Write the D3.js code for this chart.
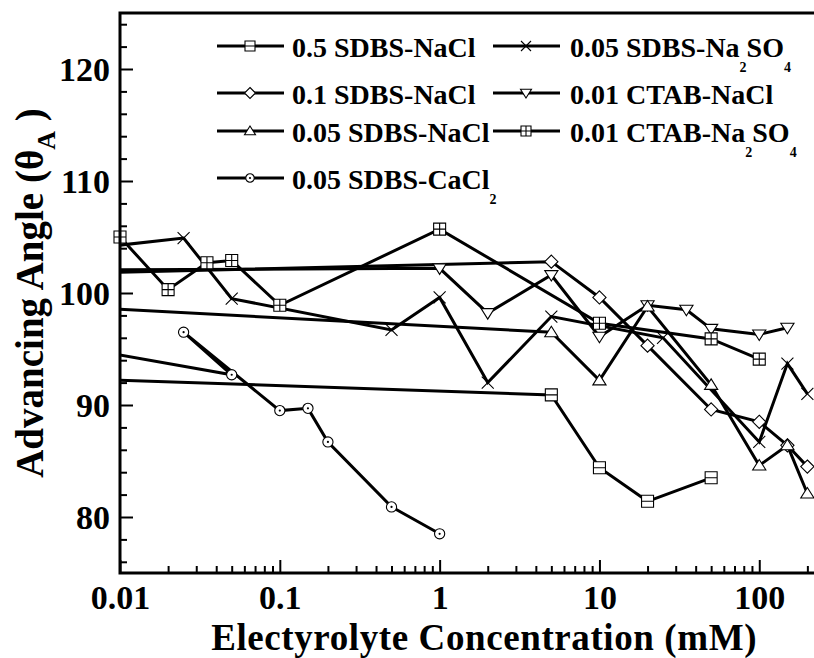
<!DOCTYPE html>
<html>
<head>
<meta charset="utf-8">
<script src="https://cdn.jsdelivr.net/npm/d3@7/dist/d3.min.js"></script>
<style>
  html, body { margin: 0; padding: 0; background: #fff; }
  svg { display: block; }
  text { font-family: "Liberation Serif", "Times New Roman", serif; font-weight: bold; fill: #000; }
</style>
</head>
<body>
<svg id="chart" width="814" height="658"></svg>
<script>
// Advancing contact angle vs electrolyte concentration, one series per surfactant/salt system.
// Points at 0.001 mM stand for the salt-free value and fall left of the visible range.

const seriesLabels = [
  "0.5 SDBS-NaCl", "0.05 SDBS-Na2SO4", "0.1 SDBS-NaCl", "0.01 CTAB-NaCl",
  "0.05 SDBS-NaCl", "0.01 CTAB-Na2SO4", "0.05 SDBS-CaCl2"
];
const seriesMarkers = ["squareH", "times", "diamond", "triDown", "triUp", "squarePlus", "circleDot"];

const concSdbs05NaCl = [0.001, 5, 10, 20, 50];
const angleSdbs05NaCl = [92.7, 90.9, 84.4, 81.4, 83.5];

const concSdbs005Na2SO4 = [0.001, 0.025, 0.05, 0.5, 1, 2, 5, 25, 100, 150, 200];
const angleSdbs005Na2SO4 = [102.7, 104.9, 99.5, 96.7, 99.6, 92.0, 97.9, 96.0, 86.7, 93.7, 91.0];

const concSdbs01NaCl = [0.001, 5, 10, 20, 50, 100, 150, 200];
const angleSdbs01NaCl = [101.5, 102.8, 99.6, 95.3, 89.6, 88.5, 86.4, 84.5];

const concCtab001NaCl = [0.001, 1, 2, 5, 10, 20, 35, 50, 100, 150];
const angleCtab001NaCl = [102.0, 102.2, 98.2, 101.6, 96.1, 98.9, 98.5, 96.8, 96.3, 96.9];

const concSdbs005NaCl = [0.001, 5, 10, 20, 50, 100, 150, 200];
const angleSdbs005NaCl = [99.3, 96.5, 92.2, 98.8, 91.8, 84.6, 86.4, 82.1];

const concCtab001Na2SO4 = [0.01, 0.02, 0.035, 0.05, 0.1, 1, 10, 50, 100];
const angleCtab001Na2SO4 = [105.0, 100.3, 102.7, 102.9, 98.9, 105.7, 97.3, 95.9, 94.1];

const concSdbs005CaCl2 = [0.001, 0.05, 0.025, 0.1, 0.15, 0.2, 0.5, 1];
const angleSdbs005CaCl2 = [97.0, 92.7, 96.5, 89.5, 89.7, 86.7, 80.9, 78.5];

const xMajorTicks = [0.01, 0.1, 1, 10, 100];
const xTickLabels = ["0.01", "0.1", "1", "10", "100"];
const yMajorTicks = [80, 90, 100, 110, 120];
const yTickLabels = ["80", "90", "100", "110", "120"];

const seriesConc = [concSdbs05NaCl, concSdbs005Na2SO4, concSdbs01NaCl, concCtab001NaCl,
                    concSdbs005NaCl, concCtab001Na2SO4, concSdbs005CaCl2];
const seriesAngle = [angleSdbs05NaCl, angleSdbs005Na2SO4, angleSdbs01NaCl, angleCtab001NaCl,
                     angleSdbs005NaCl, angleCtab001Na2SO4, angleSdbs005CaCl2];

const series = seriesLabels.map((label, i) => ({
  label, marker: seriesMarkers[i],
  points: seriesConc[i].map((c, j) => ({ c, a: seriesAngle[i][j] }))
}));

// ---- layout ----
const plot = { left: 120, right: 814.3, top: 13, bottom: 573 };

const x = d3.scaleLog().domain([0.01, 221]).range([plot.left, plot.right]);
const y = d3.scaleLinear().domain([75, 125]).range([plot.bottom, plot.top]);

const svg = d3.select("#chart");
const defs = svg.append("defs");
defs.append("clipPath").attr("id", "plotClip")
  .append("rect").attr("x", plot.left).attr("y", plot.top)
  .attr("width", plot.right - plot.left + 5).attr("height", plot.bottom - plot.top);
defs.append("clipPath").attr("id", "markerClip")
  .append("rect").attr("x", plot.left - 10).attr("y", plot.top - 10)
  .attr("width", plot.right - plot.left + 20).attr("height", plot.bottom - plot.top + 20);

// ---- marker shapes ----
function markerPath(type, s) {
  const h = s / 2;
  const p = d3.path();
  switch (type) {
    case "squareH":
      p.rect(-h, -h, s, s); p.moveTo(-h, 0); p.lineTo(h, 0); break;
    case "squarePlus":
      p.rect(-h, -h, s, s); p.moveTo(-h, 0); p.lineTo(h, 0); p.moveTo(0, -h); p.lineTo(0, h); break;
    case "times":
      p.moveTo(-h, -h); p.lineTo(h, h); p.moveTo(-h, h); p.lineTo(h, -h); break;
    case "diamond":
      p.moveTo(0, -h * 1.1); p.lineTo(h * 1.1, 0); p.lineTo(0, h * 1.1); p.lineTo(-h * 1.1, 0); p.closePath(); break;
    case "triUp":
      p.moveTo(0, -h); p.lineTo(h * 1.1, h * 0.75); p.lineTo(-h * 1.1, h * 0.75); p.closePath(); break;
    case "triDown":
      p.moveTo(0, h); p.lineTo(h * 1.1, -h * 0.75); p.lineTo(-h * 1.1, -h * 0.75); p.closePath(); break;
    case "circleDot":
      p.moveTo(h * 0.85, 0); p.arc(0, 0, h * 0.85, 0, 2 * Math.PI); break;
  }
  return p.toString();
}

function drawMarker(g, type, cx, cy, s) {
  g.append("path")
    .attr("d", markerPath(type, s))
    .attr("transform", `translate(${cx},${cy})`)
    .attr("fill", type === "times" ? "none" : "#fff")
    .attr("stroke", "#000").attr("stroke-width", 1.1);
  if (type === "circleDot") {
    g.append("circle").attr("cx", cx).attr("cy", cy).attr("r", 1.1).attr("fill", "#000");
  }
}

// ---- series lines and markers ----
const line = d3.line().x(d => x(d.c)).y(d => y(d.a));
const linesG = svg.append("g").attr("clip-path", "url(#plotClip)");
series.forEach(s => {
  linesG.append("path").datum(s.points).attr("d", line)
    .attr("fill", "none").attr("stroke", "#000").attr("stroke-width", 3)
    .attr("stroke-linejoin", "miter");
});
const markersG = svg.append("g").attr("clip-path", "url(#markerClip)");
series.forEach(s => {
  s.points.forEach(pt => drawMarker(markersG, s.marker, x(pt.c), y(pt.a), 12));
});

// ---- axes ----
const xMinor = [];
for (let d = 0.01; d < 300; d *= 10) for (let k = 2; k <= 9; k++) if (d * k <= 221) xMinor.push(d * k);
const yMinor = d3.range(76, 125, 2).filter(v => v % 10 !== 0);

const axisStyle = g => {
  g.select(".domain").remove();
  g.selectAll("line").attr("stroke", "#000").attr("stroke-width", 2);
  g.selectAll("text").attr("font-size", 34).attr("font-family", "Liberation Serif, serif").attr("font-weight", "bold");
};
const dropLabels = g => g.selectAll("text").remove();

svg.append("g").attr("transform", `translate(0,${plot.bottom})`)
  .call(d3.axisBottom(x).tickValues(xMinor).tickSize(-7).tickFormat(""))
  .call(axisStyle).call(dropLabels);
svg.append("g").attr("transform", `translate(0,${plot.bottom})`)
  .call(d3.axisBottom(x).tickValues(xMajorTicks).tickSize(-13)
    .tickFormat((d, i) => xTickLabels[i]))
  .call(axisStyle)
  .call(g => g.selectAll("text").attr("dy", null).attr("y", 36));

svg.append("g").attr("transform", `translate(${plot.left},0)`)
  .call(d3.axisLeft(y).tickValues(yMinor).tickSize(-7).tickFormat(""))
  .call(axisStyle).call(dropLabels);
svg.append("g").attr("transform", `translate(${plot.left},0)`)
  .call(d3.axisLeft(y).tickValues(yMajorTicks).tickSize(-13)
    .tickFormat((d, i) => yTickLabels[i]))
  .call(axisStyle)
  .call(g => g.selectAll("text").attr("x", -10).attr("dy", "0.34em"));

// frame: left, bottom, top
svg.append("path")
  .attr("d", `M${plot.right + 5},${plot.top}H${plot.left}V${plot.bottom}H${plot.right + 5}`)
  .attr("fill", "none").attr("stroke", "#000").attr("stroke-width", 3);

// ---- axis titles ----
svg.append("text").attr("x", (plot.left + plot.right) / 2 + 17).attr("y", 650)
  .attr("text-anchor", "middle").attr("font-size", 37).attr("letter-spacing", 0.6)
  .text("Electyrolyte Concentration (mM)");

const yTitle = svg.append("text")
  .attr("transform", `translate(43,${(plot.top + plot.bottom) / 2}) rotate(-90)`)
  .attr("text-anchor", "middle").attr("font-size", 39);
yTitle.append("tspan").text("Advancing Angle (θ");
yTitle.append("tspan").attr("font-size", 26).attr("dy", 12).text("A");
yTitle.append("tspan").attr("dy", -12).text(" )");

// ---- legend ----
const legendRows = [57, 104, 142, 189];
const legendCols = [{ lx: 217, tx: 292 }, { lx: 493, tx: 570 }];
const legendSlots = [[0, 0], [0, 1], [1, 0], [1, 1], [2, 0], [2, 1], [3, 0]];
const legendG = svg.append("g");

function addLabel(g, tx, ty, label) {
  const t = g.append("text").attr("x", tx).attr("y", ty).attr("font-size", 28);
  // digits inside the salt formula are set as subscripts
  const m = label.match(/^(.*-)(.*)$/);
  t.append("tspan").text(m[1]);
  let sub = false;
  m[2].match(/[A-Za-z]+|\d+/g).forEach(part => {
    const isDigit = /^\d+$/.test(part);
    const ts = t.append("tspan").text(part);
    if (isDigit && !sub) { ts.attr("dy", 15).attr("font-size", 14); sub = true; }
    else if (!isDigit && sub) { ts.attr("dy", -15); sub = false; }
  });
}

series.forEach((s, i) => {
  const [r, c] = legendSlots[i];
  const col = legendCols[c];
  const ly = legendRows[r] - 11;
  legendG.append("line").attr("x1", col.lx).attr("x2", col.lx + 67)
    .attr("y1", ly).attr("y2", ly).attr("stroke", "#000").attr("stroke-width", 3);
  drawMarker(legendG, s.marker, col.lx + 33, ly, 10);
  addLabel(legendG, col.tx, legendRows[r], s.label);
});
</script>
</body>
</html>
